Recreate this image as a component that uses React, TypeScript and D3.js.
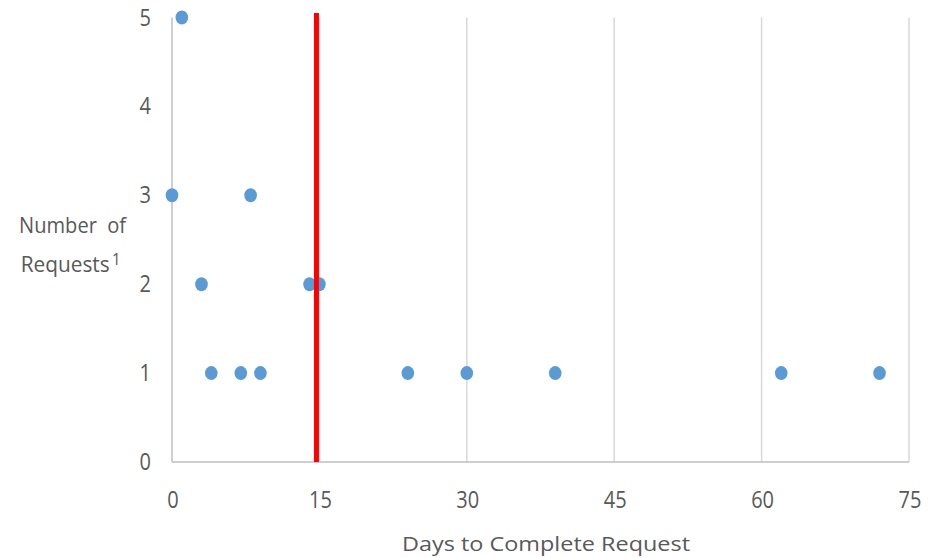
import React from "react";
import * as d3 from "d3";

const days: number[] = [0, 1, 3, 4, 7, 8, 9, 14, 15, 24, 30, 39, 62, 72];
const requests: number[] = [3, 5, 2, 1, 1, 3, 1, 2, 2, 1, 1, 1, 1, 1];
const xTicks: number[] = [0, 15, 30, 45, 60, 75];
const yTicks: number[] = [0, 1, 2, 3, 4, 5];
const thresholdDay = 14.7;
const xTitle = "Days to Complete Request";
const yTitleLines = ["Number  of", "Requests"];

const font = "'Open Sans', 'Noto Sans', sans-serif";
const txt = "#595959";

function T(props: { x: number; y: number; anchor: string; size: number; sy: number; children: React.ReactNode; len?: number }) {
  const { x, y, anchor, size, sy, children, len } = props;
  return (
    <text
      transform={`translate(${x},${y}) scale(1,${sy})`}
      textAnchor={anchor}
      fontFamily={font}
      fontSize={size}
      fill={txt}
      style={{ whiteSpace: "pre" }}
      {...(len ? { textLength: len, lengthAdjust: "spacingAndGlyphs" } : {})}
    >
      {children}
    </text>
  );
}

export default function App() {
  const W = 932, H = 558;
  const x = d3.scaleLinear().domain([0, 75]).range([172, 909]);
  const y = d3.scaleLinear().domain([0, 5]).range([462, 17.5]);
  return (
    <div style={{ position: "absolute", left: 0, top: 0 }}>
      <svg width={W} height={H} style={{ display: "block", background: "#fff" }}>
        {xTicks.filter((t) => t > 0).map((t) => (
          <line key={"g" + t} x1={x(t)} x2={x(t)} y1={y(5)} y2={y(0)} stroke="#d9d9d9" strokeWidth={1.5} />
        ))}
        <line x1={x(0)} x2={x(0)} y1={y(5)} y2={y(0)} stroke="#bfbfbf" strokeWidth={1.5} />
        <line x1={x(0)} x2={x(75)} y1={y(0)} y2={y(0)} stroke="#bfbfbf" strokeWidth={1.5} />
        {yTicks.map((t) => (
          <T key={"y" + t} x={151} y={y(t) + 8} anchor="end" size={20} sy={1.15}>
            {t}
          </T>
        ))}
        {xTicks.map((t) => (
          <T key={"x" + t} x={x(t) + 1} y={508} anchor="middle" size={20} sy={1.15}>
            {t}
          </T>
        ))}
        <T x={546} y={551} anchor="middle" size={20} sy={1.0} len={288}>
          {xTitle}
        </T>
        <T x={72.6} y={233} anchor="middle" size={20} sy={1.05} len={107}>
          {yTitleLines[0]}
        </T>
        <T x={20.7} y={272} anchor="start" size={20} sy={1.05} len={89}>
          {yTitleLines[1]}
        </T>
        <T x={112} y={265} anchor="start" size={15} sy={1.05}>
          1
        </T>
        {days.map((d, i) => (
          <ellipse key={"p" + i} cx={x(d)} cy={y(requests[i])} rx={6.3} ry={7} fill="#5b9bd5" />
        ))}
        <line x1={x(thresholdDay)} x2={x(thresholdDay)} y1={13} y2={y(0)} stroke="#ff0000" strokeWidth={5} />
      </svg>
    </div>
  );
}
